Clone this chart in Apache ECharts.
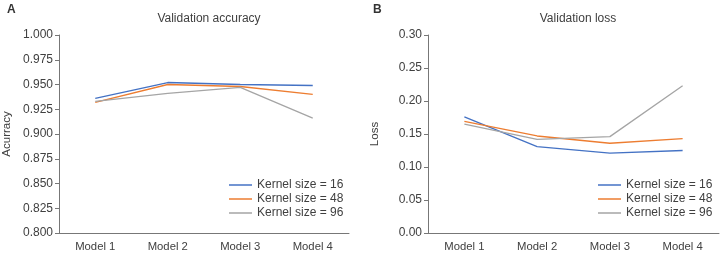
<!DOCTYPE html>
<html>
<head>
    <meta charset="utf-8">
    <title>Validation</title>
    <script src="https://cdn.jsdelivr.net/npm/echarts@6/dist/echarts.min.js"></script>
    <style>body{margin:0}</style>
</head>
<body>
    <div id="main" style="width:723px;height:254px;"></div>
    <script type="text/javascript">

    var models = ['Model 1', 'Model 2', 'Model 3', 'Model 4'];
    var names = ['Kernel size = 16', 'Kernel size = 48', 'Kernel size = 96'];
    var colors = ['#4472c4', '#ed7d31', '#a5a5a5'];

    var acc16 = [0.936, 0.952, 0.950, 0.949];
    var acc48 = [0.932, 0.950, 0.948, 0.940];
    var acc96 = [0.933, 0.941, 0.947, 0.916];

    var loss16 = [0.176, 0.131, 0.121, 0.125];
    var loss48 = [0.169, 0.147, 0.136, 0.143];
    var loss96 = [0.165, 0.142, 0.146, 0.223];

    var txt = '#404040';
    var axc = '#777';
    var font = 'Liberation Sans';
    var myChart = echarts.init(document.getElementById('main'));

    function xAx(idx) {
        return {
            type: 'category', gridIndex: idx, data: models,
            axisLine: {lineStyle: {color: axc}},
            axisTick: {alignWithLabel: true, length: 4, lineStyle: {color: axc}},
            axisLabel: {color: txt, fontSize: 11.3, fontFamily: font, margin: 8}
        };
    }
    function yAx(idx, min, max, step, name, gap, digits) {
        return {
            type: 'value', gridIndex: idx, min: min, max: max, interval: step,
            name: name, nameLocation: 'middle', nameGap: gap,
            nameTextStyle: {color: txt, fontSize: 11.5, fontFamily: font},
            axisLine: {show: true, lineStyle: {color: axc}},
            axisTick: {show: true, length: 4, lineStyle: {color: axc}},
            splitLine: {show: false},
            axisLabel: {color: txt, fontSize: 12, fontFamily: font, margin: 6,
                formatter: function (v) { return v.toFixed(digits); }}
        };
    }
    function line(name, data, c, idx) {
        return {
            name: name, type: 'line', data: data, xAxisIndex: idx, yAxisIndex: idx,
            symbol: 'none', lineStyle: {width: 1.3, color: c}, itemStyle: {color: c}
        };
    }
    function leg(left) {
        return {
            data: names, orient: 'vertical', left: left, top: 173,
            icon: 'rect', itemWidth: 23, itemHeight: 1.5, itemGap: 0,
            textStyle: {color: txt, fontSize: 12, fontFamily: font, lineHeight: 14},
            selectedMode: false
        };
    }

    var option = {
        animation: false,
        title: [
            {text: 'A', left: 2, top: -1, textStyle: {fontSize: 12, fontWeight: 'bold', color: '#333', fontFamily: font}},
            {text: 'B', left: 368, top: -1, textStyle: {fontSize: 12, fontWeight: 'bold', color: '#333', fontFamily: font}},
            {text: 'Validation accuracy', left: 204, top: 8, textAlign: 'center',
                textStyle: {fontSize: 12, fontWeight: 'normal', color: txt, fontFamily: font}},
            {text: 'Validation loss', left: 573, top: 8, textAlign: 'center',
                textStyle: {fontSize: 12, fontWeight: 'normal', color: txt, fontFamily: font}}
        ],
        legend: [leg(224), leg(593)],
        grid: [
            {left: 59, top: 35, width: 290, height: 198},
            {left: 428, top: 35, width: 291, height: 198}
        ],
        xAxis: [xAx(0), xAx(1)],
        yAxis: [
            yAx(0, 0.8, 1.0, 0.025, 'Acurracy', 46, 3),
            yAx(1, 0, 0.3, 0.05, 'Loss', 47, 2)
        ],
        series: [
            line(names[0], acc16, colors[0], 0),
            line(names[1], acc48, colors[1], 0),
            line(names[2], acc96, colors[2], 0),
            line(names[0], loss16, colors[0], 1),
            line(names[1], loss48, colors[1], 1),
            line(names[2], loss96, colors[2], 1)
        ]
    };
    myChart.setOption(option);
    </script>
</body>
</html>
